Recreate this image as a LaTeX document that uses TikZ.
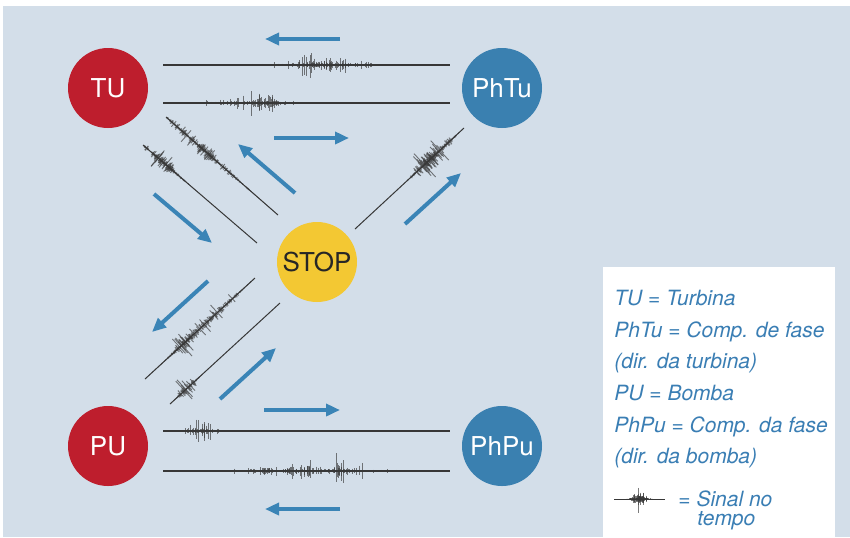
\documentclass[tikz,border=0pt]{standalone}
\usepackage{fontspec}
\setmainfont{TeX Gyre Heros}
\usepackage{tikz}
\usetikzlibrary{positioning,calc,arrows.meta}
\definecolor{bgblue}{RGB}{211,222,233}
\definecolor{turred}{RGB}{190,30,45}
\definecolor{phblue}{RGB}{58,128,176}
\definecolor{stopyel}{RGB}{243,200,51}
\definecolor{arrblue}{RGB}{58,132,182}
\definecolor{legblue}{RGB}{58,126,180}
\definecolor{sig}{RGB}{55,55,55}
% spikes of a signal burst along a line: ends, centre, width, amplitude (pt)
\newcommand{\burst}[5]{%
  \pgfmathsetmacro{\ta}{max(0.01,#3-2.2*#4)}
  \pgfmathsetmacro{\tb}{min(0.98,#3+2.2*#4)}
  \pgfmathsetmacro{\tn}{\ta+0.004}
  \foreach \t in {\ta,\tn,...,\tb}{
    \pgfmathsetmacro{\h}{#5*exp(-((\t-#3)/#4)^2)*rnd*rnd*(0.4+0.6*rnd)}
    \pgfmathsetmacro{\hh}{\h*(0.6+0.8*rnd)}
    \draw[spike] ($(#1)!\t!(#2)!\h pt!90:(#2)$) -- ($(#1)!\t!(#2)!\hh pt!-90:(#2)$);
  }
}

\begin{document}
\begin{tikzpicture}[x=0.5pt,y=-0.5pt]
\tikzstyle{unit}=[circle, minimum size=40pt, inner sep=0pt, text=white, font=\fontsize{13}{15}\selectfont]
\tikzstyle{sigline}=[draw=sig, line width=0.7pt]
\tikzstyle{spike}=[draw=sig, line width=0.45pt, opacity=0.65]
\tikzstyle{flow}=[draw=arrblue, line width=2pt, -{Triangle[length=7pt,width=6pt,fill=arrblue]}]
\tikzstyle{legend}=[anchor=base west, inner sep=0pt, text=legblue, font=\fontsize{10.5}{12}\selectfont\itshape]
\pgfmathsetseed{7}

\useasboundingbox (0,0) rectangle (850,537);
\fill[bgblue] (3,6) rectangle (850,537);
\fill[white] (603,267) rectangle (835,537);

\node[unit, fill=turred] (tu) at (108,88) {TU};
\node[unit, fill=phblue] (phtu) at (502,88) {PhTu};
\node[unit, fill=stopyel, text=black!85] (stop) at (317,262) {STOP};
\node[unit, fill=turred] (pu) at (108,446) {PU};
\node[unit, fill=phblue] (phpu) at (502,446) {PhPu};

% signal lines
\coordinate (t1a) at (163,65);  \coordinate (t1b) at (450,65);
\coordinate (t2a) at (163,103); \coordinate (t2b) at (450,103);
\coordinate (b1a) at (163,431); \coordinate (b1b) at (450,431);
\coordinate (b2a) at (163,471); \coordinate (b2b) at (450,471);
\coordinate (d1a) at (166,117); \coordinate (d1b) at (278,215);
\coordinate (d2a) at (143,145); \coordinate (d2b) at (257,243);
\coordinate (d3a) at (355,229); \coordinate (d3b) at (464,128);
\coordinate (d4a) at (255,278); \coordinate (d4b) at (145,379);
\coordinate (d5a) at (280,303); \coordinate (d5b) at (170,404);

\path[sigline]
	(t1a) edge (t1b)
	(t2a) edge (t2b)
	(b1a) edge (b1b)
	(b2a) edge (b2b);
\path[sigline, line width=0.5pt]
	(d1a) edge (d1b)
	(d2a) edge (d2b)
	(d3a) edge (d3b)
	(d4a) edge (d4b)
	(d5a) edge (d5b);

\burst{t1a}{t1b}{0.51}{0.035}{18}
\burst{t1a}{t1b}{0.62}{0.10}{9}
\burst{t1a}{t1b}{0.50}{0.18}{4}
\burst{t2a}{t2b}{0.36}{0.035}{18}
\burst{t2a}{t2b}{0.30}{0.12}{8}
\burst{b1a}{b1b}{0.115}{0.03}{18}
\burst{b1a}{b1b}{0.15}{0.04}{8}
\burst{b2a}{b2b}{0.36}{0.02}{13}
\burst{b2a}{b2b}{0.44}{0.02}{11}
\burst{b2a}{b2b}{0.505}{0.02}{19}
\burst{b2a}{b2b}{0.606}{0.025}{21}
\burst{b2a}{b2b}{0.686}{0.02}{8}
\burst{b2a}{b2b}{0.50}{0.25}{5}
\burst{d1a}{d1b}{0.35}{0.05}{12}
\burst{d1a}{d1b}{0.30}{0.30}{5}
\burst{d2a}{d2b}{0.18}{0.06}{15}
\burst{d2a}{d2b}{0.15}{0.15}{6}
\burst{d3a}{d3b}{0.64}{0.08}{15}
\burst{d3a}{d3b}{0.75}{0.12}{8}
\burst{d4a}{d4b}{0.66}{0.06}{14}
\burst{d4a}{d4b}{0.45}{0.25}{6}
\burst{d5a}{d5b}{0.84}{0.06}{15}

% direction arrows
\coordinate (a1a) at (340,39);  \coordinate (a1b) at (265,39);
\coordinate (a2a) at (274,138); \coordinate (a2b) at (349,138);
\coordinate (a3a) at (295,193); \coordinate (a3b) at (238,144);
\coordinate (a4a) at (154,194); \coordinate (a4b) at (212,243);
\coordinate (a5a) at (405,224); \coordinate (a5b) at (461,173);
\coordinate (a6a) at (208,281); \coordinate (a6b) at (152,332);
\coordinate (a7a) at (220,399); \coordinate (a7b) at (276,348);
\coordinate (a8a) at (264,410); \coordinate (a8b) at (340,410);
\coordinate (a9a) at (340,509); \coordinate (a9b) at (265,509);
\foreach \a in {a1,a2,a3,a4,a5,a6,a7,a8,a9}
	\draw[flow] (\a a) -- (\a b);

% legend
\node[legend] (l1) at (614,305) {TU = Turbina};
\node[legend] (l2) at (614,337) {PhTu = Comp. de fase};
\node[legend] (l3) at (614,368) {(dir. da turbina)};
\node[legend] (l4) at (614,400) {PU = Bomba};
\node[legend] (l5) at (614,432) {PhPu = Comp. da fase};
\node[legend] (l6) at (614,463) {(dir. da bomba)};
\coordinate (ska) at (614,499); \coordinate (skb) at (665,499);
\draw[sigline, line width=0.4pt] (ska) -- (skb);
\burst{ska}{skb}{0.5}{0.12}{10}
\node[legend] (l7) at (678,506) {= Sinal no};
\node[legend] (l8) at (697,525) {tempo};
\end{tikzpicture}
\end{document}
